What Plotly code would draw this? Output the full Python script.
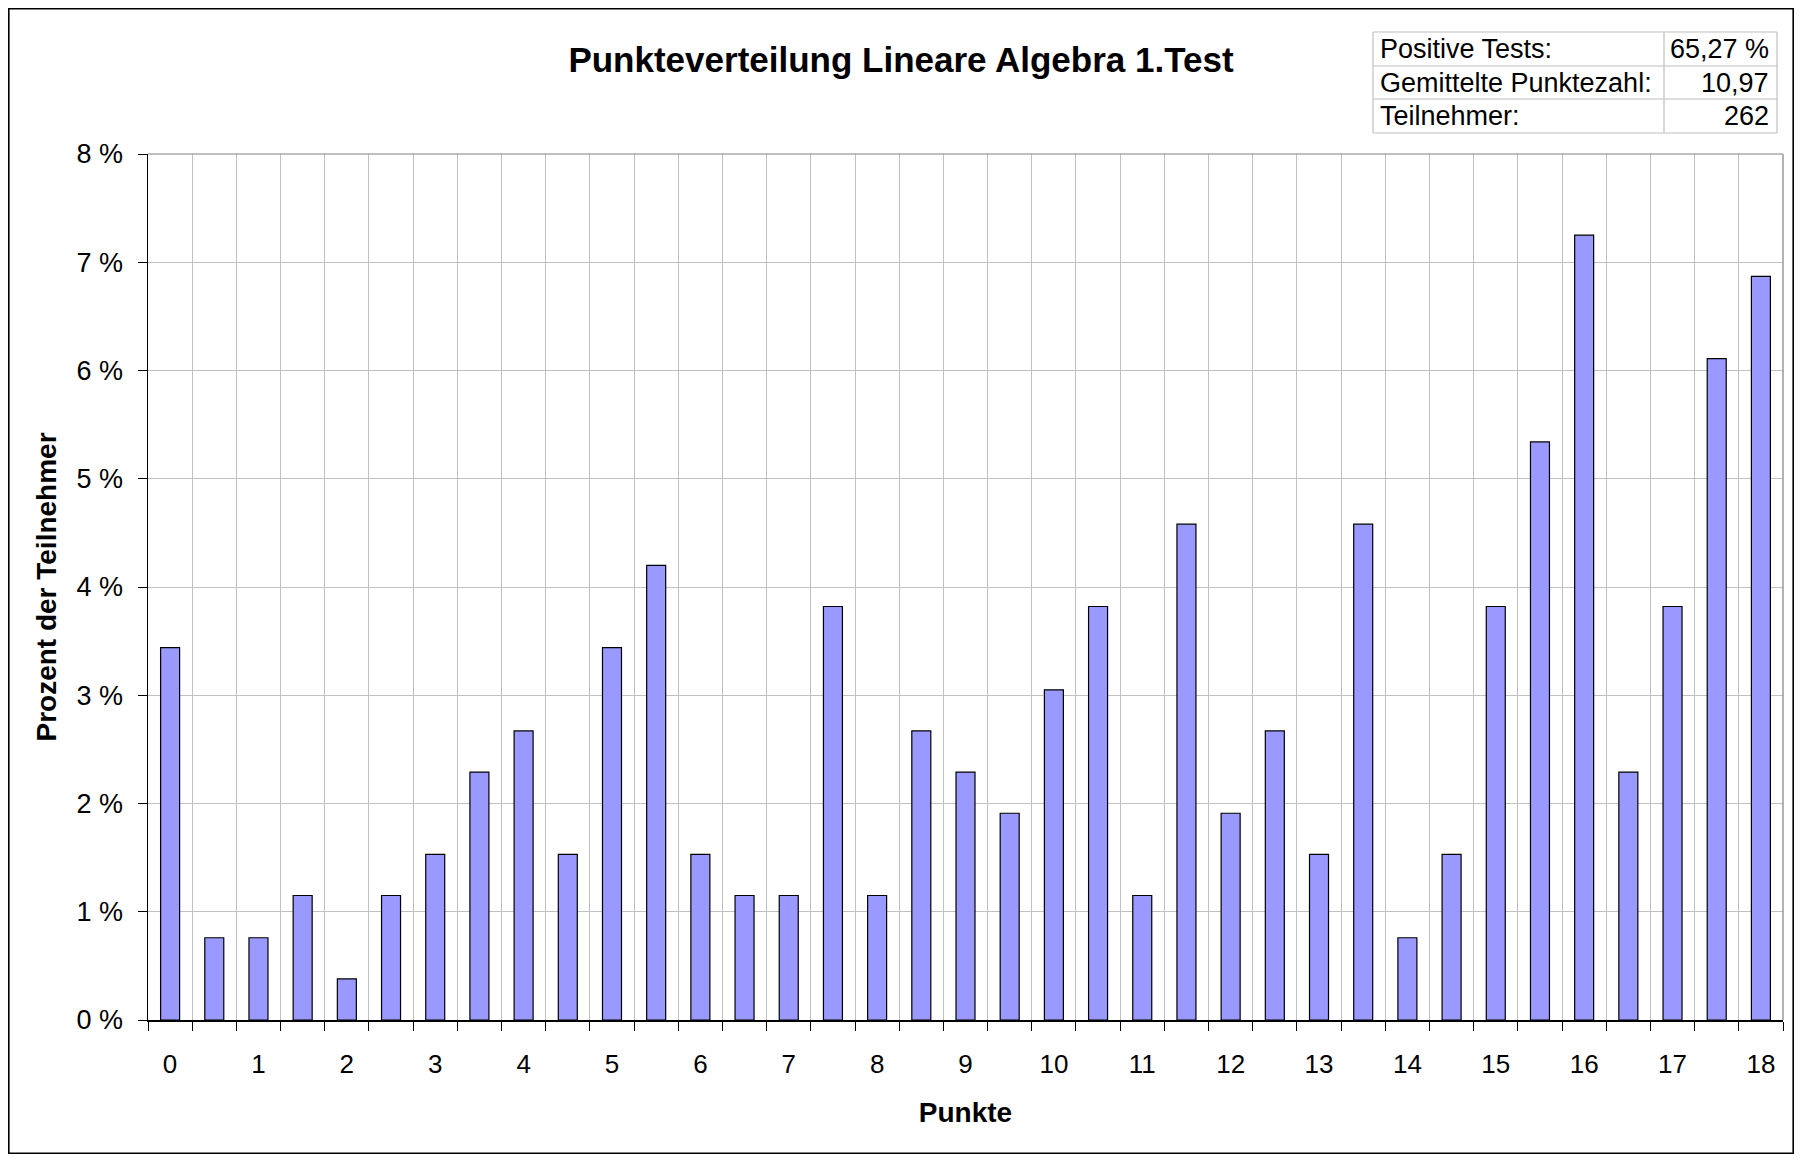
import plotly.graph_objects as go

# Punkte (half-point steps) and share of participants in percent
punkte = [0, 0.5, 1, 1.5, 2, 2.5, 3, 3.5, 4, 4.5, 5, 5.5, 6, 6.5, 7, 7.5, 8, 8.5,
          9, 9.5, 10, 10.5, 11, 11.5, 12, 12.5, 13, 13.5, 14, 14.5, 15, 15.5,
          16, 16.5, 17, 17.5, 18]
prozent = [3.44, 0.76, 0.76, 1.15, 0.38, 1.15, 1.53, 2.29, 2.67, 1.53, 3.44, 4.20,
           1.53, 1.15, 1.15, 3.82, 1.15, 2.67, 2.29, 1.91, 3.05, 3.82, 1.15, 4.58,
           1.91, 2.67, 1.53, 4.58, 0.76, 1.53, 3.82, 5.34, 7.25, 2.29, 3.82, 6.11,
           6.87]

x_labels = [str(i) for i in range(19)]
y_ticks = [0, 1, 2, 3, 4, 5, 6, 7, 8]
y_labels = [f"{v} %" for v in y_ticks]

stat_labels = ["Positive Tests:", "Gemittelte Punktezahl:", "Teilnehmer:"]
stat_values = ["65,27 %", "10,97", "262"]

FONT = "Arial, Liberation Sans, sans-serif"
W, H = 1786, 1146
ML, MR, MT, MB = 140, 11, 146, 134
PW, PH = W - ML - MR, H - MT - MB


def px(x):
    return (x - ML) / PW


def py(y):
    return (H - MB - y) / PH


half = 0.25
grid_vals = [p - half for p in punkte] + [punkte[-1] + half]
xr = [punkte[0] - half, punkte[-1] + half]

fig = go.Figure()
fig.add_trace(go.Bar(
    x=punkte, y=prozent, width=0.215,
    marker=dict(color="#9999FF", line=dict(color="black", width=1.2)),
    hoverinfo="skip", showlegend=False,
))
# invisible trace so the label axis gets drawn
fig.add_trace(go.Scatter(x=[punkte[0]], y=[0], xaxis="x2", mode="markers",
                         marker=dict(opacity=0), hoverinfo="skip", showlegend=False))

shapes = [
    # top and right border of plot area (grey)
    dict(type="line", xref="paper", yref="paper", x0=0, x1=1, y0=1, y1=1,
         line=dict(color="#808080", width=1.2)),
    dict(type="line", xref="paper", yref="paper", x0=1, x1=1, y0=0, y1=1,
         line=dict(color="#808080", width=1.2)),
    # outer chart frame
    dict(type="rect", xref="paper", yref="paper", x0=px(0.8), x1=px(W - 0.8),
         y0=py(H - 0.8), y1=py(0.8), line=dict(color="black", width=1.6)),
]

# stats table
tx = [1365, 1656, 1769]
ty = [24, 58, 91, 125]
tcol = "#C0C0C0"
for y in ty:
    shapes.append(dict(type="line", xref="paper", yref="paper", x0=px(tx[0]), x1=px(tx[2]),
                       y0=py(y), y1=py(y), line=dict(color=tcol, width=1.2)))
for x in tx:
    shapes.append(dict(type="line", xref="paper", yref="paper", x0=px(x), x1=px(x),
                       y0=py(ty[0]), y1=py(ty[-1]), line=dict(color=tcol, width=1.2)))

annotations = []
for i, (lab, val) in enumerate(zip(stat_labels, stat_values)):
    yc = (ty[i] + ty[i + 1]) / 2
    annotations.append(dict(xref="paper", yref="paper", x=px(tx[0] + 5), y=py(yc),
                            text=lab, showarrow=False, xanchor="left", yanchor="middle",
                            font=dict(family=FONT, size=27, color="black")))
    annotations.append(dict(xref="paper", yref="paper", x=px(tx[2] - 6), y=py(yc),
                            text=val, showarrow=False, xanchor="right", yanchor="middle",
                            font=dict(family=FONT, size=27, color="black")))

fig.update_layout(
    width=W, height=H,
    margin=dict(l=ML, r=MR, t=MT, b=MB),
    paper_bgcolor="white", plot_bgcolor="white",
    template="none",
    title=dict(text="Punkteverteilung Lineare Algebra 1.Test",
               x=893 / W, xanchor="center", xref="container",
               y=1 - 52 / H, yanchor="middle", yref="container",
               font=dict(family=FONT, size=35, color="black", weight="bold")),
    xaxis=dict(range=xr, tickmode="array", tickvals=grid_vals, showticklabels=False,
               ticks="outside", ticklen=9, tickwidth=1, tickcolor="black",
               showgrid=True, gridcolor="#C0C0C0", gridwidth=1,
               showline=True, linecolor="black", linewidth=1.5, zeroline=False),
    xaxis2=dict(range=xr, overlaying="x", side="bottom", tickmode="array",
                tickvals=list(range(19)), ticktext=x_labels, ticks="",
                ticklabelstandoff=26, showgrid=False, zeroline=False, showline=False,
                tickfont=dict(family=FONT, size=26, color="black"),
                title=dict(text="Punkte", standoff=24,
                           font=dict(family=FONT, size=28, color="black", weight="bold"))),
    yaxis=dict(range=[0, 8], tickmode="array", tickvals=y_ticks, ticktext=y_labels,
               ticks="outside", ticklen=9, tickwidth=1, tickcolor="black",
               ticklabelstandoff=9,
               showgrid=True, gridcolor="#C0C0C0", gridwidth=1,
               showline=True, linecolor="black", linewidth=1.5, zeroline=False,
               tickfont=dict(family=FONT, size=27, color="black"),
               title=dict(text="Prozent der Teilnehmer", standoff=12,
                          font=dict(family=FONT, size=28, color="black", weight="bold"))),
    shapes=shapes,
    annotations=annotations,
    bargap=0,
)

fig.write_html("out.html", config=dict(displayModeBar=False, staticPlot=True))
